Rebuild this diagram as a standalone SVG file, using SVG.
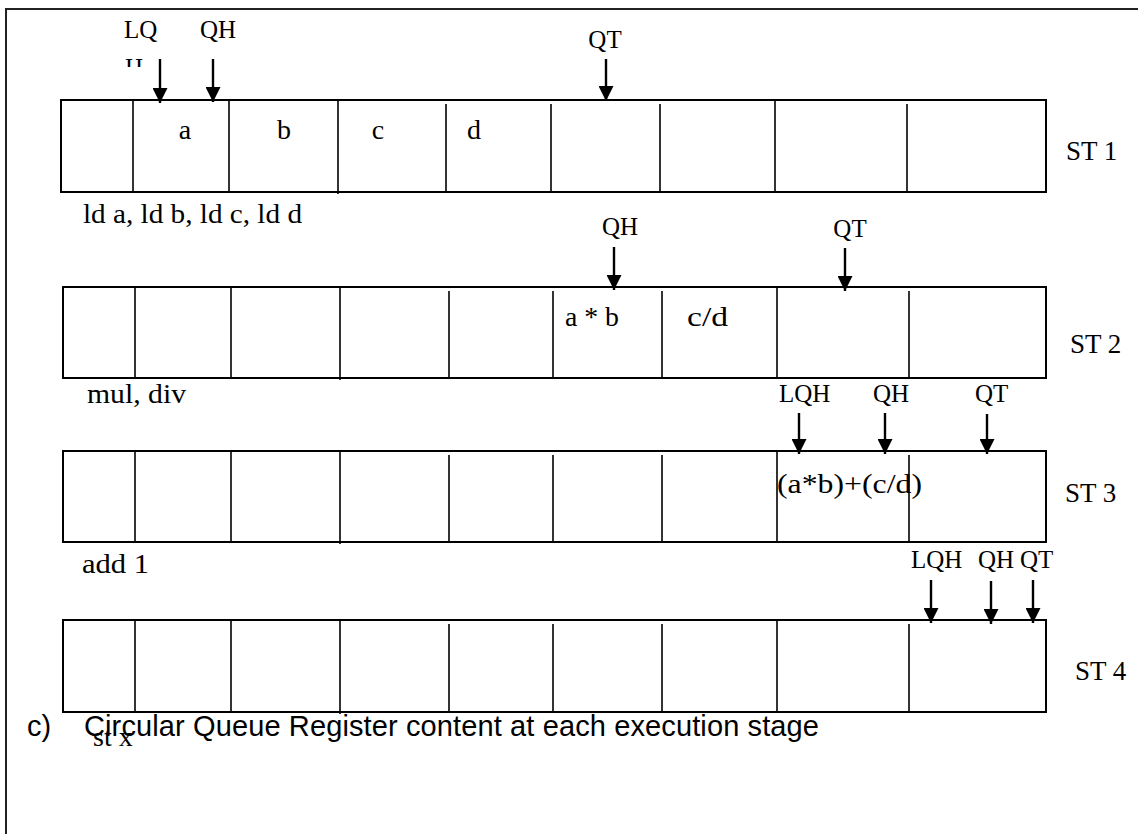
<svg xmlns="http://www.w3.org/2000/svg" width="1138" height="834" viewBox="0 0 1138 834">
<style>
.row{fill:none;stroke:#000;stroke-width:2}
.div{stroke:#000;stroke-width:1.6}
.s{font-family:"Liberation Serif","Times New Roman",serif;font-size:28px;fill:#000}
.p{font-family:"Liberation Serif","Times New Roman",serif;font-size:25px;fill:#000}
.st{font-family:"Liberation Serif","Times New Roman",serif;font-size:27px;fill:#000}
.cap{font-family:"Liberation Sans",Arial,sans-serif;font-size:29px;fill:#000}
.arr{stroke:#000;stroke-width:2.4;fill:none;marker-end:url(#ah)}
</style>
<defs>
<marker id="ah" markerUnits="userSpaceOnUse" markerWidth="15" markerHeight="15" viewBox="0 0 15 15" refX="15" refY="7.5" orient="auto">
<path d="M0,0 L15,7.5 L0,15 Z" fill="#000"/>
</marker>
<clipPath id="hclip"><rect x="100" y="40" width="60" height="27"/></clipPath>
</defs>
<rect width="1138" height="834" fill="#fff"/>
<path d="M6,834 V9 H1138" fill="none" stroke="#222" stroke-width="2"/>

<g id="row1">
<rect class="row" x="61" y="100" width="985" height="92"/>
<line class="div" x1="133" y1="100" x2="133" y2="192"/>
<line class="div" x1="229" y1="100" x2="229" y2="192"/>
<line class="div" x1="338" y1="100" x2="338" y2="194"/>
<line class="div" x1="446" y1="104" x2="446" y2="192"/>
<line class="div" x1="551" y1="104" x2="551" y2="192"/>
<line class="div" x1="660" y1="104" x2="660" y2="192"/>
<line class="div" x1="775" y1="100" x2="775" y2="192"/>
<line class="div" x1="907" y1="104" x2="907" y2="192"/>
<text class="s" x="185" y="139" text-anchor="middle">a</text>
<text class="s" x="284" y="139" text-anchor="middle">b</text>
<text class="s" x="378" y="139" text-anchor="middle">c</text>
<text class="s" x="474" y="139" text-anchor="middle">d</text>
<text class="st" x="1066" y="160">ST 1</text>
<text class="s" x="83" y="223" textLength="219" lengthAdjust="spacingAndGlyphs">ld a, ld b, ld c, ld d</text>
</g>
<g id="ptr1">
<text class="p" x="124" y="38">LQ</text>
<text class="p" x="125" y="76" clip-path="url(#hclip)">H</text>
<text class="p" x="200" y="38">QH</text>
<text class="p" x="605" y="48" text-anchor="middle">QT</text>
</g>

<g id="row2">
<rect class="row" x="63" y="287" width="983" height="91"/>
<line class="div" x1="135" y1="287" x2="135" y2="378"/>
<line class="div" x1="231" y1="287" x2="231" y2="378"/>
<line class="div" x1="340" y1="287" x2="340" y2="380"/>
<line class="div" x1="449" y1="291" x2="449" y2="378"/>
<line class="div" x1="553" y1="291" x2="553" y2="378"/>
<line class="div" x1="662" y1="291" x2="662" y2="378"/>
<line class="div" x1="777" y1="287" x2="777" y2="378"/>
<line class="div" x1="909" y1="291" x2="909" y2="378"/>
<text class="s" x="565" y="326" textLength="54" lengthAdjust="spacingAndGlyphs">a * b</text>
<text class="s" x="687" y="326" textLength="41" lengthAdjust="spacingAndGlyphs">c/d</text>
<text class="st" x="1070" y="353">ST 2</text>
<text class="s" x="87" y="403" textLength="99" lengthAdjust="spacingAndGlyphs">mul, div</text>
</g>
<g id="ptr2">
<text class="p" x="620" y="235" text-anchor="middle">QH</text>
<text class="p" x="850" y="237" text-anchor="middle">QT</text>
</g>

<g id="row3">
<rect class="row" x="63" y="451" width="983" height="91"/>
<line class="div" x1="135" y1="451" x2="135" y2="542"/>
<line class="div" x1="231" y1="451" x2="231" y2="542"/>
<line class="div" x1="340" y1="451" x2="340" y2="544"/>
<line class="div" x1="449" y1="455" x2="449" y2="542"/>
<line class="div" x1="553" y1="455" x2="553" y2="542"/>
<line class="div" x1="662" y1="455" x2="662" y2="542"/>
<line class="div" x1="777" y1="451" x2="777" y2="542"/>
<line class="div" x1="909" y1="455" x2="909" y2="542"/>
<text class="s" x="777" y="493" textLength="145" lengthAdjust="spacingAndGlyphs">(a*b)+(c/d)</text>
<text class="st" x="1065" y="502">ST 3</text>
<text class="s" x="82" y="573" textLength="67" lengthAdjust="spacingAndGlyphs">add 1</text>
</g>
<g id="ptr3">
<text class="p" x="779" y="402">LQH</text>
<text class="p" x="873" y="402">QH</text>
<text class="p" x="975" y="402">QT</text>
</g>

<g id="row4">
<rect class="row" x="63" y="620" width="983" height="92"/>
<line class="div" x1="135" y1="620" x2="135" y2="712"/>
<line class="div" x1="231" y1="620" x2="231" y2="712"/>
<line class="div" x1="340" y1="620" x2="340" y2="714"/>
<line class="div" x1="449" y1="624" x2="449" y2="712"/>
<line class="div" x1="553" y1="624" x2="553" y2="712"/>
<line class="div" x1="662" y1="624" x2="662" y2="712"/>
<line class="div" x1="777" y1="620" x2="777" y2="712"/>
<line class="div" x1="909" y1="624" x2="909" y2="712"/>
<text class="st" x="1075" y="680">ST 4</text>
<text class="s" x="93" y="746">st x</text>
</g>
<g id="ptr4">
<text class="p" x="911" y="568">LQH</text>
<text class="p" x="978" y="568">QH</text>
<text class="p" x="1020" y="568">QT</text>
</g>

<g id="connectors">
<line class="arr" x1="160" y1="59" x2="160" y2="103"/>
<line class="arr" x1="213" y1="59" x2="213" y2="102"/>
<line class="arr" x1="606" y1="59" x2="606" y2="101"/>
<line class="arr" x1="614" y1="247" x2="614" y2="290"/>
<line class="arr" x1="845" y1="248" x2="845" y2="291"/>
<line class="arr" x1="799" y1="413" x2="799" y2="454"/>
<line class="arr" x1="885" y1="413" x2="885" y2="454"/>
<line class="arr" x1="987" y1="414" x2="987" y2="454"/>
<line class="arr" x1="931" y1="580" x2="931" y2="623"/>
<line class="arr" x1="991" y1="581" x2="991" y2="624"/>
<line class="arr" x1="1033" y1="580" x2="1033" y2="623"/>
</g>

<g id="caption">
<text class="cap" x="27" y="736">c)</text>
<text class="cap" x="84" y="736" textLength="735" lengthAdjust="spacing">Circular Queue Register content at each execution stage</text>
</g>
</svg>
